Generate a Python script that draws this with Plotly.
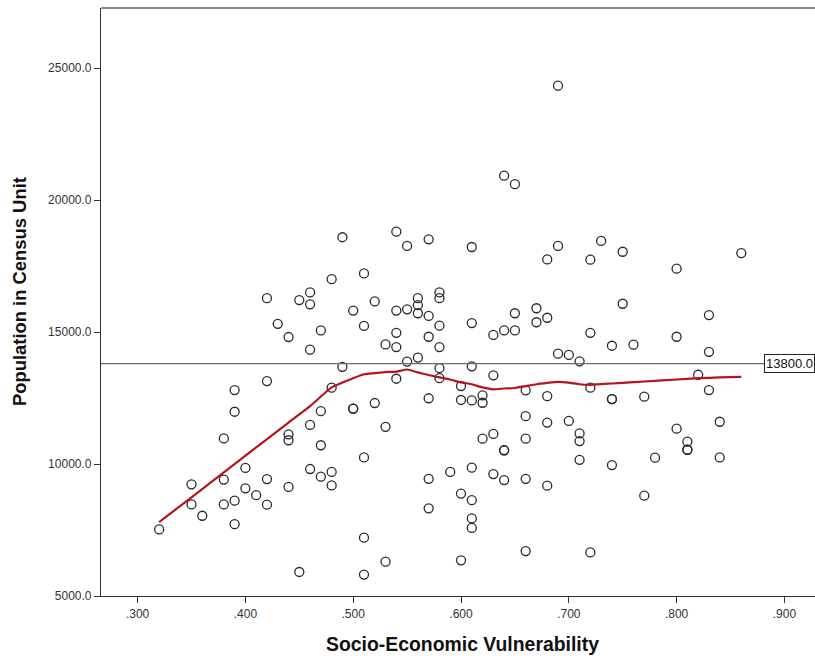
import plotly.graph_objects as go

# Scatter data: Socio-Economic Vulnerability (x) vs Population in Census Unit (y)
sev = [
    0.49, 0.54, 0.55, 0.57, 0.51, 0.48,
    0.69, 0.64, 0.65, 0.61, 0.69, 0.68, 0.73, 0.72, 0.75, 0.80, 0.86,
    0.42, 0.45, 0.46, 0.46, 0.52, 0.54, 0.55, 0.56, 0.56, 0.56, 0.57, 0.58, 0.58,
    0.50, 0.43, 0.44, 0.47, 0.46, 0.51, 0.54, 0.53, 0.54, 0.57, 0.58, 0.58,
    0.55, 0.56, 0.49, 0.58, 0.58, 0.54, 0.42, 0.48, 0.39, 0.57, 0.52, 0.50, 0.50,
    0.47, 0.39, 0.46, 0.53, 0.44, 0.44, 0.38, 0.47, 0.51, 0.40, 0.46, 0.47, 0.48,
    0.48, 0.59, 0.57, 0.60, 0.60, 0.60, 0.60, 0.35, 0.35, 0.36, 0.38, 0.38, 0.39,
    0.39, 0.40, 0.41, 0.42, 0.42, 0.44, 0.32, 0.45, 0.51, 0.51, 0.53, 0.57,
    0.75, 0.61, 0.63, 0.64, 0.65, 0.65, 0.67, 0.67, 0.68, 0.72, 0.74, 0.76, 0.80,
    0.83, 0.83, 0.69, 0.70, 0.71, 0.61, 0.63, 0.82, 0.66, 0.72, 0.83, 0.62, 0.62,
    0.61, 0.68, 0.74, 0.74, 0.77, 0.66, 0.68, 0.70, 0.71, 0.71, 0.80, 0.84, 0.62,
    0.63, 0.64, 0.64, 0.66, 0.81, 0.81, 0.81, 0.71, 0.74, 0.78, 0.84, 0.61, 0.63,
    0.64, 0.66, 0.68, 0.77, 0.61, 0.61, 0.61, 0.66, 0.72,
]
population = [
    18590, 18800, 18260, 18510, 17220, 17000,
    24330, 20920, 20600, 18220, 18260, 17750, 18450, 17740, 18040, 17400, 17990,
    16280, 16210, 16500, 16050, 16160, 15810, 15860, 16280, 16020, 15710, 15610, 16500, 16280,
    15810, 15310, 14810, 15060, 14330, 15230, 14970, 14530, 14430, 14820, 15240, 14430,
    13880, 14030, 13680, 13630, 13250, 13230, 13140, 12890, 12800, 12490, 12310, 12100, 12100,
    12000, 11980, 11480, 11410, 11120, 10900, 10970, 10710, 10250, 9850, 9810, 9520, 9700,
    9190, 9700, 9440, 12955, 12425, 8880, 6350, 9230, 8470, 8040, 9410, 8470, 8610,
    7720, 9080, 8820, 9430, 8460, 9130, 7520, 5910, 7210, 5810, 6300, 8320,
    16070, 15340, 14890, 15060, 15060, 15710, 15900, 15370, 15540, 14970, 14480, 14520, 14820,
    15640, 14250, 14180, 14130, 13890, 13700, 13360, 13380, 12790, 12890, 12800, 12600, 12320,
    12410, 12570, 12460, 12460, 12550, 11810, 11570, 11630, 11160, 10870, 11340, 11600, 10960,
    11140, 10520, 10520, 10960, 10850, 10540, 10540, 10160, 9960, 10240, 10250, 9860, 9620,
    9390, 9440, 9180, 8800, 8630, 7940, 7580, 6700, 6650,
]

# Loess fit line values
fit_x = [0.32, 0.35, 0.38, 0.41, 0.44, 0.46, 0.48, 0.50, 0.51, 0.52, 0.53, 0.54,
         0.55, 0.56, 0.57, 0.58, 0.59, 0.60, 0.61, 0.62, 0.63, 0.64, 0.65, 0.66,
         0.67, 0.68, 0.69, 0.70, 0.71, 0.72, 0.74, 0.76, 0.78, 0.80, 0.82, 0.84, 0.86]
fit_y = [7800, 8740, 9680, 10630, 11570, 12190, 12900, 13250, 13400, 13440, 13480, 13500,
         13580, 13470, 13370, 13280, 13200, 13090, 13020, 12900, 12830, 12860, 12880, 12950,
         13020, 13070, 13110, 13080, 13020, 13000, 13050, 13100, 13150, 13200, 13250, 13280, 13300]

ref_value = 13800.0

x_tickvals = [0.3, 0.4, 0.5, 0.6, 0.7, 0.8, 0.9]
x_ticktext = [".300", ".400", ".500", ".600", ".700", ".800", ".900"]
y_tickvals = [5000, 10000, 15000, 20000, 25000]
y_ticktext = ["5000.0", "10000.0", "15000.0", "20000.0", "25000.0"]

FONT = "Liberation Sans, Arial, sans-serif"

fig = go.Figure()
fig.add_trace(go.Scatter(
    x=sev, y=population, mode="markers",
    marker=dict(symbol="circle-open", size=9, color="#2a2a2a", line=dict(width=1.3)),
    showlegend=False, hoverinfo="x+y",
))
fig.add_trace(go.Scatter(
    x=fit_x, y=fit_y, mode="lines", line=dict(color="#b3161c", width=2.2, shape="spline", smoothing=0.4),
    showlegend=False,
))

# Reference line
fig.add_hline(y=ref_value, line=dict(color="#6e6e6e", width=1.2))
fig.add_annotation(
    xref="paper", yref="y", x=1.0, y=ref_value, xanchor="right", yanchor="middle",
    text=f"{ref_value:.1f}", showarrow=False, font=dict(family=FONT, size=13, color="#111"),
    bordercolor="#222", borderwidth=1, borderpad=1, bgcolor="white",
)

# Top border
fig.add_shape(type="line", xref="paper", yref="paper", x0=0, x1=1, y0=1, y1=1,
              line=dict(color="#8a8a8a", width=2))

fig.update_xaxes(
    range=[0.26605, 0.92838], tickvals=x_tickvals, ticktext=x_ticktext,
    showgrid=False, zeroline=False, showline=True, linecolor="#333", linewidth=1.2,
    ticks="outside", ticklen=6, tickcolor="#333",
    tickfont=dict(family=FONT, size=12, color="#333"),
)
fig.update_yaxes(
    range=[5000, 27273], tickvals=y_tickvals, ticktext=y_ticktext,
    showgrid=False, zeroline=False, showline=True, linecolor="#333", linewidth=1.2,
    ticks="outside", ticklen=6, tickcolor="#333",
    tickfont=dict(family=FONT, size=12, color="#333"),
)

# Axis titles
fig.add_annotation(xref="paper", yref="paper", x=(462 - 101) / 714, y=-(644 - 596) / 588,
                   text="<b>Socio-Economic Vulnerability</b>", showarrow=False,
                   xanchor="center", yanchor="middle",
                   font=dict(family=FONT, size=19.4, color="#111"))
fig.add_annotation(xref="paper", yref="paper", x=(19 - 101) / 714, y=(596 - 292) / 588,
                   text="<b>Population in Census Unit</b>", showarrow=False, textangle=-90,
                   xanchor="center", yanchor="middle",
                   font=dict(family=FONT, size=18.4, color="#111"))

fig.update_layout(
    width=815, height=656,
    margin=dict(l=101, r=0, t=8, b=60),
    paper_bgcolor="white", plot_bgcolor="white",
)

fig.write_html("out.html", config={"displayModeBar": False},
               post_script="document.body.style.margin='0';document.body.style.overflow='hidden';")
